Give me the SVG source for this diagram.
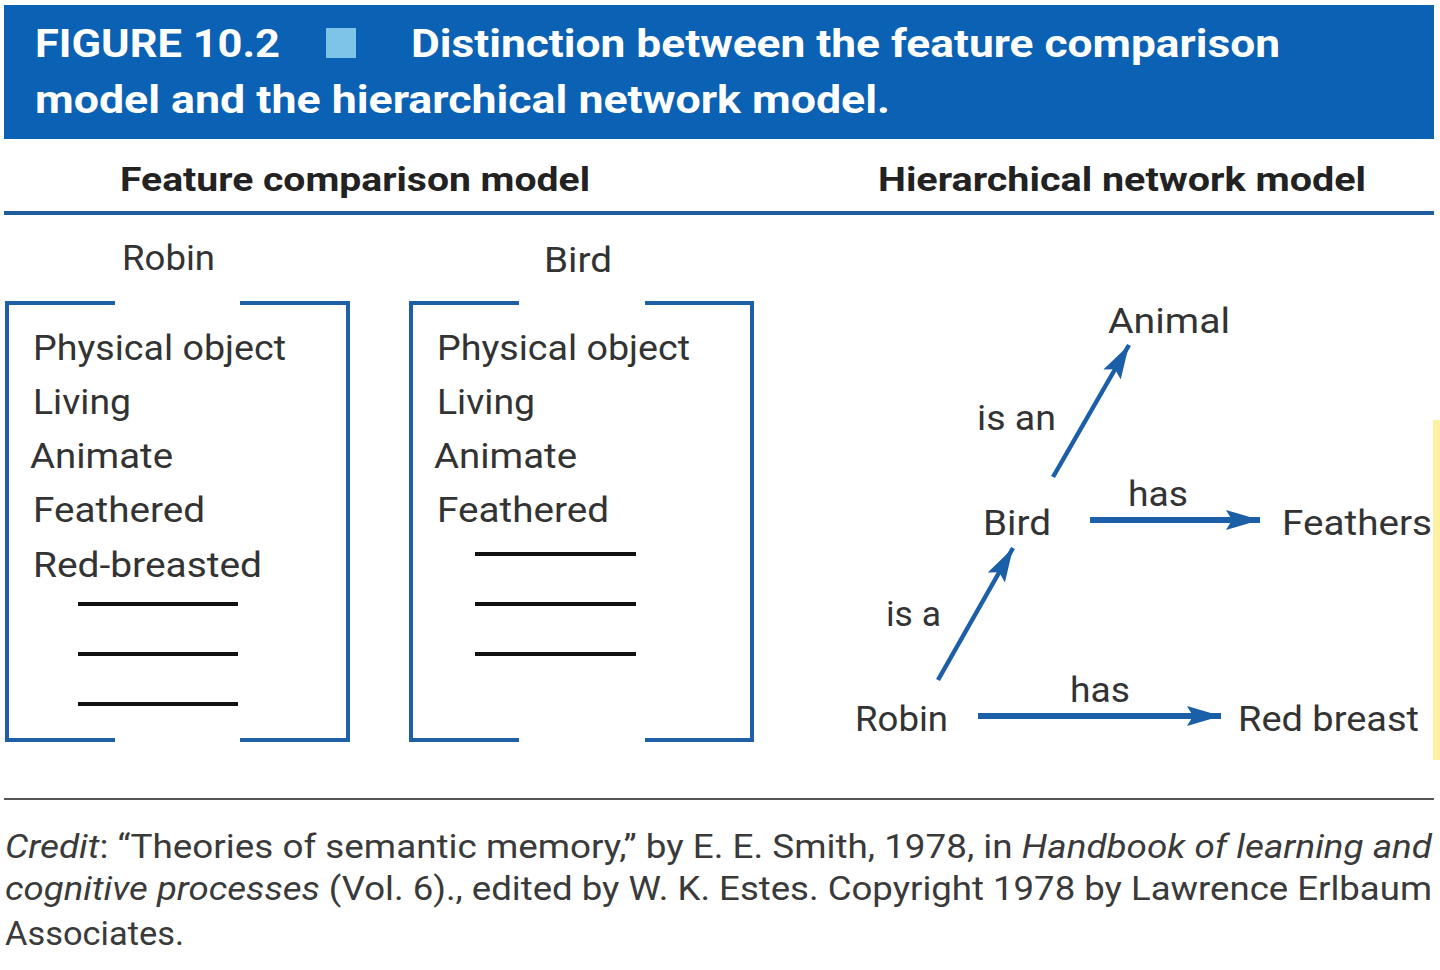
<svg xmlns="http://www.w3.org/2000/svg" width="1440" height="970" viewBox="0 0 1440 970">
<style>
.hd{font-family:Roboto,"Liberation Sans",sans-serif;font-weight:bold;font-size:38px;fill:#ffffff}
.sub{font-family:Roboto,"Liberation Sans",sans-serif;font-weight:bold;font-size:34px;fill:#222222}
.t{font-family:Roboto,"Liberation Sans",sans-serif;font-size:35px;fill:#333333}
.cr{font-family:Roboto,"Liberation Sans",sans-serif;font-size:33px;fill:#3a3a3a}
.br{fill:none;stroke:#1f5fa6;stroke-width:4}
.bl{stroke:#111111;stroke-width:4}
.ar{stroke:#1a5fa8;stroke-width:4.5;fill:none}
.arh{stroke:#1a5fa8;stroke-width:6;fill:none}
</style>
<defs>
<marker id="ah" markerUnits="userSpaceOnUse" markerWidth="36" markerHeight="22" refX="34" refY="10" orient="auto">
<path d="M0,0 L34,10 L0,20 L6,10 z" fill="#1a5fa8"/>
</marker>
</defs>
<rect width="1440" height="970" fill="#ffffff"/>
<g id="header">
<rect x="4" y="5" width="1430" height="134" fill="#0b61b3"/>
<text class="hd" x="35" y="57" textLength="245" lengthAdjust="spacingAndGlyphs">FIGURE 10.2</text>
<rect x="326" y="28" width="30" height="30" fill="#7ec3e8"/>
<text class="hd" x="411" y="57" textLength="869" lengthAdjust="spacingAndGlyphs">Distinction between the feature comparison</text>
<text class="hd" x="35" y="113" textLength="855" lengthAdjust="spacingAndGlyphs">model and the hierarchical network model.</text>
</g>
<g id="subheads">
<text class="sub" x="120" y="191" textLength="470" lengthAdjust="spacingAndGlyphs">Feature comparison model</text>
<text class="sub" x="878" y="191" textLength="488" lengthAdjust="spacingAndGlyphs">Hierarchical network model</text>
<rect x="4" y="211" width="1430" height="4" fill="#1f5c9e"/>
</g>
<g id="robin-features">
<text class="t" x="122" y="270" textLength="93" lengthAdjust="spacingAndGlyphs">Robin</text>
<path class="br" d="M115,303 H7 V740 H115 M240,303 H348 V740 H240"/>
<text class="t" x="33" y="360" textLength="253" lengthAdjust="spacingAndGlyphs">Physical object</text>
<text class="t" x="33" y="414" textLength="98" lengthAdjust="spacingAndGlyphs">Living</text>
<text class="t" x="30" y="468" textLength="143" lengthAdjust="spacingAndGlyphs">Animate</text>
<text class="t" x="33" y="522" textLength="172" lengthAdjust="spacingAndGlyphs">Feathered</text>
<text class="t" x="33" y="577" textLength="229" lengthAdjust="spacingAndGlyphs">Red-breasted</text>
<line class="bl" x1="78" y1="604" x2="238" y2="604"/>
<line class="bl" x1="78" y1="654" x2="238" y2="654"/>
<line class="bl" x1="78" y1="704" x2="238" y2="704"/>
</g>
<g id="bird-features">
<text class="t" x="544" y="272" textLength="68" lengthAdjust="spacingAndGlyphs">Bird</text>
<path class="br" d="M519,303 H411 V740 H519 M645,303 H752 V740 H645"/>
<text class="t" x="437" y="360" textLength="253" lengthAdjust="spacingAndGlyphs">Physical object</text>
<text class="t" x="437" y="414" textLength="98" lengthAdjust="spacingAndGlyphs">Living</text>
<text class="t" x="434" y="468" textLength="143" lengthAdjust="spacingAndGlyphs">Animate</text>
<text class="t" x="437" y="522" textLength="172" lengthAdjust="spacingAndGlyphs">Feathered</text>
<line class="bl" x1="475" y1="554" x2="636" y2="554"/>
<line class="bl" x1="475" y1="604" x2="636" y2="604"/>
<line class="bl" x1="475" y1="654" x2="636" y2="654"/>
</g>
<g id="node-animal"><text class="t" x="1108" y="333" textLength="122" lengthAdjust="spacingAndGlyphs">Animal</text></g>
<g id="node-bird"><text class="t" x="983" y="535" textLength="68" lengthAdjust="spacingAndGlyphs">Bird</text></g>
<g id="node-feathers"><text class="t" x="1282" y="535" textLength="150" lengthAdjust="spacingAndGlyphs">Feathers</text></g>
<g id="node-robin"><text class="t" x="855" y="731" textLength="93" lengthAdjust="spacingAndGlyphs">Robin</text></g>
<g id="node-redbreast"><text class="t" x="1238" y="731" textLength="181" lengthAdjust="spacingAndGlyphs">Red breast</text></g>
<g id="connectors">
<line class="ar" x1="1053" y1="477" x2="1129" y2="345" marker-end="url(#ah)"/>
<line class="ar" x1="938" y1="680" x2="1013" y2="548" marker-end="url(#ah)"/>
<line class="arh" x1="1090" y1="520" x2="1260" y2="520" marker-end="url(#ah)"/>
<line class="arh" x1="978" y1="716" x2="1221" y2="716" marker-end="url(#ah)"/>
<text class="t" x="977" y="430" textLength="79" lengthAdjust="spacingAndGlyphs">is an</text>
<text class="t" x="1128" y="506" textLength="60" lengthAdjust="spacingAndGlyphs">has</text>
<text class="t" x="886" y="626" textLength="55" lengthAdjust="spacingAndGlyphs">is a</text>
<text class="t" x="1070" y="702" textLength="60" lengthAdjust="spacingAndGlyphs">has</text>
</g>
<rect x="1433" y="420" width="7" height="340" fill="#fbf1a0"/>
<g id="credit">
<rect x="4" y="798" width="1430" height="2" fill="#555555"/>
<text class="cr" x="5" y="858" textLength="1427" lengthAdjust="spacingAndGlyphs"><tspan font-style="italic">Credit</tspan>: “Theories of semantic memory,” by E. E. Smith, 1978, in <tspan font-style="italic">Handbook of learning and</tspan></text>
<text class="cr" x="5" y="900" textLength="1427" lengthAdjust="spacingAndGlyphs"><tspan font-style="italic">cognitive processes</tspan> (Vol. 6)., edited by W. K. Estes. Copyright 1978 by Lawrence Erlbaum</text>
<text class="cr" x="5" y="945" textLength="179" lengthAdjust="spacingAndGlyphs">Associates.</text>
</g>
</svg>
